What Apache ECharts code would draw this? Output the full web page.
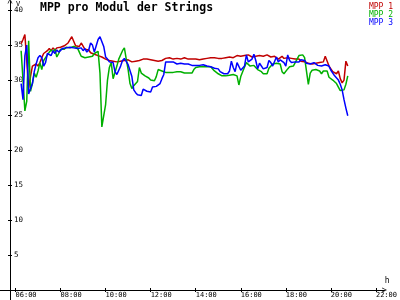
<!DOCTYPE html>
<html><head><meta charset="utf-8">
<script src="https://cdn.jsdelivr.net/npm/echarts@6/dist/echarts.min.js"></script>
<style>html,body{margin:0;padding:0;background:#fff}#c{width:400px;height:300px}</style>
</head><body><div id="c"></div>
<script>
const times = [
"06:15","06:20","06:25","06:30","06:35","06:40","06:45","06:50","06:55",
"07:00","07:05","07:10","07:15","07:20","07:25","07:30","07:35","07:40","07:45","07:50","07:55",
"08:00","08:05","08:10","08:15","08:20","08:25","08:30","08:35","08:40","08:45","08:50","08:55",
"09:00","09:05","09:10","09:15","09:20","09:25","09:30","09:35","09:40","09:45","09:50","09:55",
"10:00","10:05","10:10","10:15","10:20","10:25","10:30","10:35","10:40","10:45","10:50","10:55",
"11:00","11:05","11:10","11:15","11:20","11:25","11:30","11:35","11:40","11:45","11:50","11:55",
"12:00","12:05","12:10","12:15","12:20","12:25","12:30","12:35","12:40","12:45","12:50","12:55",
"13:00","13:05","13:10","13:15","13:20","13:25","13:30","13:35","13:40","13:45","13:50","13:55",
"14:00","14:05","14:10","14:15","14:20","14:25","14:30","14:35","14:40","14:45","14:50","14:55",
"15:00","15:05","15:10","15:15","15:20","15:25","15:30","15:35","15:40","15:45","15:50","15:55",
"16:00","16:05","16:10","16:15","16:20","16:25","16:30","16:35","16:40","16:45","16:50","16:55",
"17:00","17:05","17:10","17:15","17:20","17:25","17:30","17:35","17:40","17:45","17:50","17:55",
"18:00","18:05","18:10","18:15","18:20","18:25","18:30","18:35","18:40","18:45","18:50","18:55",
"19:00","19:05","19:10","19:15","19:20","19:25","19:30","19:35","19:40","19:45","19:50","19:55",
"20:00","20:05","20:10","20:15","20:20","20:25","20:30","20:35","20:40","20:45"
];
const mpp1 = [
35.2,35.8,36.5,36.5,28.9,30.5,32.0,31.8,32.3,
32.0,32.5,33.2,33.8,33.6,34.2,34.5,34.2,34.6,34.3,34.6,34.4,
34.7,34.5,34.9,35.0,35.3,35.4,36.2,36.4,34.9,34.7,34.8,35.3,
35.2,34.4,34.2,34.3,33.9,33.8,33.7,33.5,33.5,33.3,33.3,33.2,
33.0,33.0,32.8,32.9,32.7,32.8,32.6,32.8,32.7,32.9,32.8,32.7,
32.9,32.7,32.6,32.5,32.7,32.6,32.8,32.9,33.0,32.9,33.0,32.8,
32.9,33.0,32.8,32.9,32.7,32.9,32.8,33.0,33.1,33.0,33.2,33.1,
33.0,33.2,33.1,33.2,33.0,33.1,33.2,33.1,33.0,32.9,33.0,33.1,
33.0,33.0,32.9,33.1,33.0,33.2,33.1,33.0,33.2,33.1,33.2,33.0,
33.1,33.2,33.1,33.3,33.2,33.1,33.3,33.4,33.2,33.3,33.5,33.3,
33.4,33.3,33.5,33.4,33.6,33.4,33.3,33.5,33.4,33.6,33.5,33.3,
33.4,33.2,33.6,33.4,33.3,33.5,33.4,33.3,33.0,33.2,33.4,33.1,
33.3,33.2,33.0,33.1,32.9,33.0,32.8,33.0,32.7,32.8,32.6,32.5,
32.4,32.5,32.3,32.5,32.4,32.3,32.5,32.4,32.6,33.4,33.3,32.0,
32.1,31.2,31.0,30.9,31.3,30.2,29.6,30.0,32.7,32.0
];
const mpp2 = [
34.2,30.0,25.6,27.0,35.6,28.4,29.5,31.0,30.4,
31.3,32.5,31.5,32.8,33.2,33.0,34.0,34.3,34.0,34.4,33.3,33.8,
34.4,34.6,34.4,34.7,34.5,34.6,34.8,34.8,34.9,34.6,34.0,33.4,
33.2,33.2,33.1,33.3,33.2,33.4,33.8,34.0,34.1,31.0,23.3,23.2,
26.5,30.0,31.8,32.5,30.2,30.0,32.0,33.0,33.2,34.2,34.6,33.0,
31.5,29.5,28.8,29.2,29.0,29.8,31.8,31.0,30.8,30.6,30.5,30.3,
30.0,29.8,29.9,30.5,31.5,31.6,31.3,31.2,31.1,31.2,31.1,31.2,
31.1,31.0,31.2,31.1,31.2,31.1,31.0,31.2,31.0,30.9,31.0,31.5,
31.8,32.0,31.9,32.0,31.9,32.0,31.9,31.8,31.9,31.6,31.3,31.1,
30.9,30.7,30.6,30.5,30.6,30.5,30.7,30.9,30.8,30.9,30.6,29.3,
30.5,31.2,31.4,32.5,32.3,32.0,31.8,32.1,31.9,31.5,31.4,31.2,
30.9,30.8,30.9,31.7,31.9,32.3,32.4,32.4,32.5,32.3,31.2,30.9,
30.8,31.6,31.9,31.7,32.0,32.5,32.6,33.5,33.7,33.6,33.2,33.0,
29.4,31.0,31.4,31.6,31.5,31.6,31.3,30.9,31.3,31.4,31.3,30.4,
30.2,30.0,29.9,29.5,29.4,28.5,28.3,28.6,29.4,30.6
];
const mpp3 = [
29.5,27.2,33.5,35.0,28.0,28.8,29.5,31.2,32.3,
33.2,33.5,33.2,32.0,32.5,33.8,34.0,33.5,34.2,33.8,34.3,34.0,
34.2,34.5,34.3,34.6,34.5,34.7,34.8,34.6,34.4,34.5,34.3,34.6,
34.2,34.5,34.0,34.3,35.3,35.0,34.0,34.2,35.8,36.2,36.0,34.8,
33.3,33.0,32.6,32.4,32.5,31.2,30.8,31.0,32.0,32.8,33.1,32.9,
32.2,32.4,30.5,28.6,28.2,27.9,27.7,27.8,28.7,28.8,28.4,28.2,
28.3,29.0,29.2,29.1,29.3,29.5,30.2,30.8,32.6,32.7,32.6,32.5,
32.6,32.5,32.3,32.3,32.4,32.2,32.3,32.2,32.3,32.2,32.1,32.2,
32.1,32.2,32.1,32.0,32.2,32.1,32.0,32.1,31.9,32.0,31.7,31.5,
31.6,31.2,31.0,30.9,31.1,30.9,31.3,32.7,31.8,31.2,32.5,32.3,
31.4,31.6,32.0,33.6,32.6,32.4,33.0,33.7,32.8,31.6,32.4,32.2,
31.6,31.4,31.8,32.8,32.5,32.0,32.1,33.3,32.6,32.9,33.0,32.5,
32.0,33.6,32.8,32.5,32.7,32.6,32.8,32.6,32.9,33.0,32.8,32.4,
32.5,32.3,32.4,32.5,32.3,32.1,32.2,32.0,32.1,32.2,32.1,32.0,
31.4,31.2,30.6,30.4,30.0,29.4,28.6,27.2,26.0,24.9
];
const seriesNames = ['MPP 1','MPP 2','MPP 3'];
const xTickHours = [6,8,10,12,14,16,18,20,22];
const yTicks = [5,10,15,20,25,30,35,40];
const titleText = 'MPP pro Modul der Strings';
const xUnit = 'h';
const yUnit = 'V';

const colors = ['#c00000','#00b000','#0000ff'];
const font = 'DejaVu Sans Mono';
const arrow = 'path://M0,10 L5,0 L10,10 L8.6,10 L5,2.8 L1.4,10 Z';
function toHours(s){const p=s.split(':');return Number(p[0])+Number(p[1])/60;}
function pairs(vals){return times.map((t,i)=>[toHours(t), vals[i]]);}
function pad(n){return (n<10?'0':'')+n;}
const xMin = 5.756, xMax = 22.38, yMin = 0, yMax = 41.3;

const chart = echarts.init(document.getElementById('c'), null, {renderer:'canvas'});
chart.setOption({
  animation:false,
  backgroundColor:'#fff',
  title:{text:titleText,left:40,top:2,padding:0,
    textStyle:{fontFamily:font,fontWeight:'bold',fontSize:11.5,color:'#000'}},
  legend:{orient:'vertical',right:7,top:3,padding:0,itemGap:0,itemWidth:0,itemHeight:7.7,icon:'rect',
    selectedMode:false,
    textStyle:{fontFamily:font,fontSize:8,lineHeight:7.7,padding:0},
    data:seriesNames.map((n,i)=>({name:n,itemStyle:{opacity:0},textStyle:{color:colors[i]}}))},
  grid:{left:10,right:1,top:1,bottom:10,containLabel:false},
  xAxis:[
    {type:'value',min:xMin,max:xMax,position:'bottom',
     name:xUnit,nameLocation:'end',nameGap:5,nameMoveOverlap:false,
     nameTextStyle:{fontFamily:font,fontSize:8,color:'#000',align:'right',verticalAlign:'bottom',padding:[0,0,5,0]},
     axisLine:{show:true,lineStyle:{color:'#000',width:1},symbol:['none',arrow],symbolSize:[7,5]},
     axisTick:{show:true,inside:false,length:2,customValues:xTickHours,lineStyle:{color:'#000'}},
     axisLabel:{show:true,customValues:xTickHours,formatter:v=>pad(Math.round(v))+':00',
       fontFamily:font,fontSize:7,color:'#000',margin:2,align:'left'},
     splitLine:{show:false}},
    {type:'value',min:xMin,max:xMax,position:'bottom',
     axisLine:{show:false},
     axisTick:{show:true,inside:true,length:2,customValues:xTickHours,lineStyle:{color:'#000'}},
     axisLabel:{show:false},splitLine:{show:false}}
  ],
  yAxis:[
    {type:'value',min:yMin,max:yMax,position:'left',
     name:yUnit,nameLocation:'end',nameGap:0,nameMoveOverlap:false,
     nameTextStyle:{fontFamily:font,fontSize:7,color:'#000',align:'left',verticalAlign:'top',padding:[0,0,0,6]},
     axisLine:{show:true,lineStyle:{color:'#000',width:1},symbol:['none',arrow],symbolSize:[7,5]},
     axisTick:{show:true,inside:false,length:2,customValues:yTicks,lineStyle:{color:'#000'}},
     axisLabel:{show:true,inside:true,customValues:yTicks,fontFamily:font,fontSize:7.5,color:'#000',margin:4},
     splitLine:{show:false}},
    {type:'value',min:yMin,max:yMax,position:'left',offset:0,
     axisLine:{show:false},
     axisTick:{show:true,inside:true,length:2,customValues:yTicks,lineStyle:{color:'#000'}},
     axisLabel:{show:false},splitLine:{show:false}}
  ],
  graphic:[
    {type:'line',silent:true,shape:{x1:0,y1:290.5,x2:10,y2:290.5},style:{stroke:'#000',lineWidth:1}},
    {type:'line',silent:true,shape:{x1:10.5,y1:290,x2:10.5,y2:300},style:{stroke:'#000',lineWidth:1}}
  ],
  series:[mpp1,mpp2,mpp3].map((d,i)=>({
    name:seriesNames[i],type:'line',xAxisIndex:0,yAxisIndex:0,
    data:pairs(d),showSymbol:false,symbol:'none',
    lineStyle:{color:colors[i],width:1.5},itemStyle:{color:colors[i]}
  }))
});
</script></body></html>
